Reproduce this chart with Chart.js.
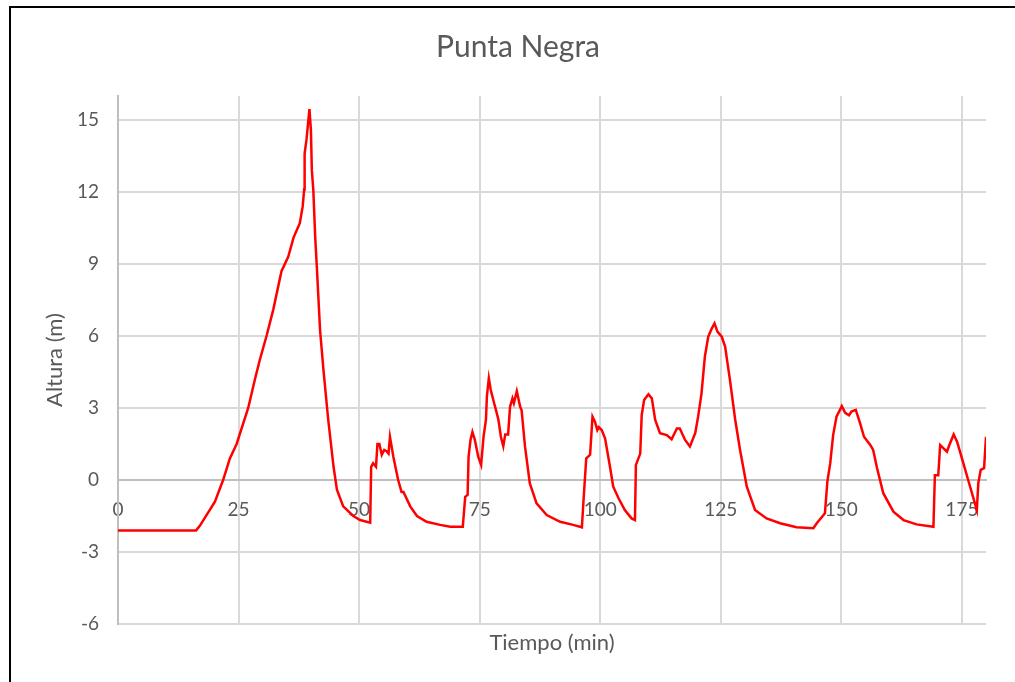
<!DOCTYPE html>
<html>
<head>
<meta charset="utf-8">
<title>Punta Negra</title>
<script src="https://cdn.jsdelivr.net/npm/chart.js@4/dist/chart.umd.min.js"></script>
<style>
    html, body { margin: 0; padding: 0; background: #fff; }
    #wrap { position: relative; width: 1015px; height: 682px; }
    #marco {
        position: absolute; left: 9px; top: 6px; right: 0; bottom: 0;
        border-top: 2px solid #000; border-left: 2px solid #000;
        pointer-events: none;
    }
</style>
</head>
<body>
<div id="wrap">
    <canvas id="grafico" width="1015" height="682"></canvas>
    <div id="marco"></div>
</div>
<script>
// serie de altura de ola (m) frente al tiempo (min)
const tiempo = [
    0, 16.2, 17, 20.1, 21.8, 23.2, 24.6, 27, 28.4, 29.4, 30.8, 32.2, 33.9, 35.3, 36.4, 37.7,
    38.3, 38.6, 38.7, 39.1, 39.7, 40.0, 40.2, 40.5, 40.9, 41.2, 41.9, 42.6, 43.6, 44.7, 45.4,
    46.7, 48.8, 50.2, 52.3, 52.5, 52.9, 53.5, 53.8, 54.2, 54.7, 55.2, 55.7, 56.1, 56.4, 57.1,
    58.1, 58.8, 59.2, 60.6, 62, 64, 66.8, 68.9, 71.5, 72, 72.5, 72.7, 73.1, 73.5, 74.0, 74.7,
    75.3, 75.8, 76.3, 76.5, 76.9, 77.3, 78, 78.4, 78.9, 79.4, 79.9, 80.3, 80.9, 81.3, 81.8,
    82.1, 82.7, 83.4, 83.7, 84.4, 85.4, 86.8, 88.9, 91.7, 94.4, 96.2, 96.5, 97.1, 97.9, 98.4,
    98.9, 99.4, 99.7, 100.3, 101, 101.9, 102.7, 103.8, 105.1, 106.5, 107.2, 107.4, 108.3,
    108.6, 109.1, 110, 110.7, 111.4, 112.4, 113.8, 114.8, 115.9, 116.5, 117.6, 118.6, 119.7,
    120.3, 121.0, 121.7, 122.4, 123.1, 123.7, 124.3, 125.2, 125.9, 126.9, 128, 129, 130.4,
    132.1, 134.5, 137.3, 140.7, 144.2, 144.9, 146.6, 147.1, 147.7, 148.3, 149.0, 150.1, 150.8,
    151.6, 152.1, 153, 153.9, 154.7, 156, 156.6, 157.4, 158.7, 160.8, 162.9, 165.6, 169.1,
    169.4, 170.1, 170.5, 171.2, 171.9, 172.4, 173.3, 174, 175.3, 176.3, 178.1, 178.4, 178.9,
    179.6, 180
];
const altura = [
    -2.1, -2.1, -1.9, -0.9, 0, 0.9, 1.5, 3.0, 4.2, 5.0, 6.0, 7.1, 8.7, 9.3, 10.1, 10.7,
    11.4, 12.1, 13.6, 14.2, 15.45, 14.6, 12.9, 12.1, 10.1, 9.0, 6.25, 4.6, 2.5, 0.55, -0.4,
    -1.1, -1.5, -1.67, -1.78, 0.55, 0.7, 0.55, 1.5, 1.5, 1.05, 1.25, 1.2, 1.1, 1.8, 0.97,
    0, -0.5, -0.5, -1.1, -1.5, -1.74, -1.87, -1.95, -1.95, -0.7, -0.62, 0.97, 1.67, 2.0, 1.67, 0.97,
    0.63, 1.8, 2.5, 3.5, 4.24, 3.75, 3.2, 2.9, 2.5, 1.8, 1.4, 1.9, 1.9, 3.05, 3.4,
    3.2, 3.7, 3.05, 2.9, 1.4, -0.14, -0.97, -1.46, -1.74, -1.87, -1.97, -0.97, 0.9, 1.05, 2.64,
    2.43, 2.08, 2.2, 2.08, 1.74, 0.7, -0.28, -0.76, -1.25, -1.6, -1.67, 0.63, 1.1,
    2.7, 3.33, 3.57, 3.4, 2.5, 1.95, 1.87, 1.7, 2.15, 2.15, 1.67, 1.4, 1.95,
    2.64, 3.6, 5.14, 5.97, 6.3, 6.53, 6.18, 5.97, 5.56, 4.17, 2.5, 1.25, -0.28,
    -1.25, -1.6, -1.8, -1.97, -2.01, -1.8, -1.39, -0.07, 0.7, 1.87, 2.64, 3.08, 2.8,
    2.7, 2.85, 2.92, 2.36, 1.8, 1.46, 1.25, 0.5, -0.55, -1.32, -1.67, -1.85, -1.95,
    0.2, 0.2, 1.46, 1.32, 1.18, 1.46, 1.9, 1.6, 0.7, 0, -1.25, -0.14, 0.42,
    0.49, 1.8
];

const marcasX = [0, 25, 50, 75, 100, 125, 150, 175];
const marcasY = [-6, -3, 0, 3, 6, 9, 12, 15];

const puntos = tiempo.map((t, i) => ({ x: t, y: altura[i] }));

const gris = '#595959';
const fuente = 'Lato, "Open Sans", sans-serif';

new Chart(document.getElementById('grafico').getContext('2d'), {
    type: 'line',
    data: {
        datasets: [
            {
                label: 'Punta Negra',
                data: puntos,
                borderColor: '#ff0000',
                borderWidth: 2.5,
                pointRadius: 0,
                tension: 0,
                fill: false
            }
        ]
    },
    options: {
        responsive: false,
        animation: false,
        layout: {
            // el margen izquierdo desplaza el título hacia el centro de la imagen
            padding: { left: 50, right: 29, top: 0, bottom: 0 }
        },
        plugins: {
            legend: { display: false },
            tooltip: { enabled: false },
            title: {
                display: true,
                text: 'Punta Negra',
                color: gris,
                font: { family: fuente, size: 30, weight: 'normal' },
                padding: { top: 29, bottom: 31 }
            },
            subtitle: {
                display: true,
                fullSize: false,
                position: 'bottom',
                text: 'Tiempo (min)',
                color: gris,
                font: { family: fuente, size: 22, weight: 'normal' },
                padding: { top: 6, bottom: 25.6 }
            }
        },
        scales: {
            x: {
                type: 'linear',
                position: { y: 0 },
                min: 0,
                max: 180,
                afterBuildTicks: (scale) => {
                    scale.ticks = marcasX.map((v) => ({ value: v }));
                },
                ticks: {
                    color: gris,
                    font: { family: fuente, size: 19 },
                    padding: 18,
                    maxRotation: 0
                },
                grid: {
                    color: '#d9d9d9',
                    lineWidth: 2,
                    drawTicks: false
                },
                border: { color: '#bfbfbf', width: 2 }
            },
            y: {
                min: -6,
                max: 16,
                afterBuildTicks: (scale) => {
                    scale.ticks = marcasY.map((v) => ({ value: v }));
                },
                afterFit: (scale) => {
                    scale.width = 68;
                },
                ticks: {
                    color: gris,
                    font: { family: fuente, size: 19 },
                    padding: 19
                },
                grid: {
                    color: '#d9d9d9',
                    lineWidth: 2,
                    drawTicks: false
                },
                border: { color: '#bfbfbf', width: 2 },
                title: {
                    display: true,
                    text: 'Altura (m)',
                    color: gris,
                    font: { family: fuente, size: 22 },
                    padding: { top: -8.2, bottom: 0 }
                }
            }
        }
    }
});
</script>
</body>
</html>
